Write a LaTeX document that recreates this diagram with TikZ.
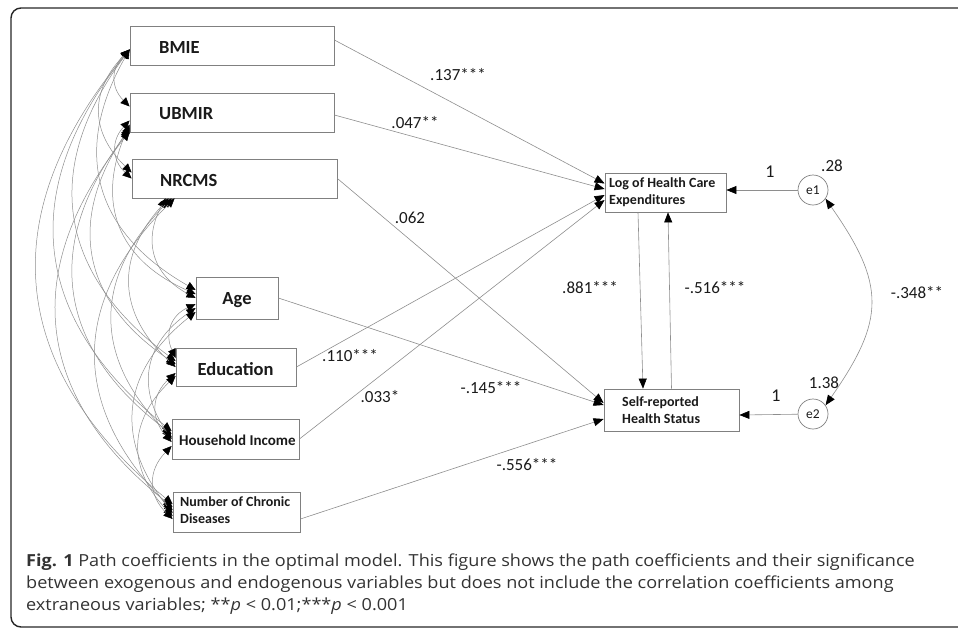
\documentclass[tikz,border=0pt]{standalone}
\usepackage{fontspec}
\setmainfont{Carlito}
\newfontfamily\capfont[FakeStretch=1.09]{Open Sans}
\usetikzlibrary{arrows.meta}
\definecolor{linegray}{HTML}{8E8E8E}
\definecolor{boxgray}{HTML}{808080}
\definecolor{txt}{HTML}{1A1A1A}
\tikzset{
  box/.style={draw=boxgray, line width=0.8pt, rectangle, inner sep=0pt},
  bigtxt/.style={text=txt, font=\bfseries\fontsize{18.5}{20}\selectfont, inner sep=0pt},
  smalltxt/.style={text=txt, font=\bfseries\fontsize{14}{17.5}\selectfont, inner sep=0pt, align=left},
  coef/.style={text=txt, font=\fontsize{17}{19}\selectfont, inner sep=0pt},
  errc/.style={draw=boxgray, line width=0.7pt, circle, minimum size=30pt, inner sep=0pt, text=txt, font=\fontsize{13.5}{15}\selectfont},
  pth/.style={draw=linegray, line width=0.6pt, -{Triangle[length=10pt,width=8pt,color=black]}},
  cov/.style={draw=linegray, line width=0.5pt, {Triangle[length=9pt,width=8pt,color=black]}-{Triangle[length=9pt,width=8pt,color=black]}, bend right=45, looseness=1.2},
  captxt/.style={text=black!80, font=\capfont\fontsize{16.6}{22}\selectfont, inner sep=0pt, anchor=base west}
}
\begin{document}
\begin{tikzpicture}[x=1pt,y=1pt]
\useasboundingbox (0,0) rectangle (958,-630);
% frame
\draw[line width=1.4pt, draw=black!85, rounded corners=10pt] (975,-8) -- (11,-8) -- (11,-627) -- (975,-627);

% exogenous boxes
\node[box, minimum width=204pt, minimum height=39pt] (bmie) at (232,-45.5) {};
\node[bigtxt, anchor=west] (bmiet) at (159,-47) {BMIE};
\node[box, minimum width=204pt, minimum height=39pt] (ubmir) at (232,-112.5) {};
\node[bigtxt, anchor=west] (ubmirt) at (159,-114) {UBMIR};
\node[box, minimum width=205pt, minimum height=39pt] (nrcms) at (234.5,-178.5) {};
\node[bigtxt, anchor=west] (nrcmst) at (160,-180) {NRCMS};
\node[box, minimum width=82pt, minimum height=42pt] (age) at (237,-298) {};
\node[bigtxt] (aget) at (237,-300) {Age};
\node[box, minimum width=120pt, minimum height=38pt] (edu) at (236,-367) {};
\node[bigtxt] (edut) at (235.5,-369) {Education};
\node[box, minimum width=127pt, minimum height=40pt] (hi) at (235.5,-439) {};
\node[smalltxt, font=\bfseries\fontsize{15}{17}\selectfont, anchor=west] (hit) at (179,-440) {Household Income};
\node[box, minimum width=127pt, minimum height=40pt] (ncd) at (236.5,-512) {};
\node[smalltxt, anchor=west] (ncdt) at (180,-510) {Number of Chronic\\Diseases};

% endogenous boxes
\node[box, minimum width=121pt, minimum height=39pt] (log) at (665.5,-192.5) {};
\node[smalltxt, anchor=west] (logt) at (609,-192) {Log of Health Care\\Expenditures};
\node[box, minimum width=135pt, minimum height=42pt] (srhs) at (671.5,-410) {};
\node[smalltxt, anchor=west] (srhst) at (622,-410) {Self-reported\\Health Status};

% error terms
\node[errc] (e1) at (813,-190) {e1};
\node[errc] (e2) at (813,-414) {e2};

% paths
\draw[pth] ([yshift=5.5pt]bmie.east) -- ([yshift=9pt]log.west);
\draw[pth] ([yshift=-2.5pt]ubmir.east) -- ([yshift=3.5pt]log.west);
\draw[pth] (edu.east) -- ([yshift=-2.5pt]log.west);
\draw[pth] (hi.east) -- ([yshift=-7.5pt]log.west);
\draw[pth] (nrcms.east) -- ([yshift=7pt]srhs.west);
\draw[pth] (age.east) -- ([yshift=5pt]srhs.west);
\draw[pth] ([yshift=-7pt]ncd.east) -- ([yshift=-9pt]srhs.west);
\draw[pth] ([xshift=-27.5pt]log.south) -- ([xshift=-28.5pt]srhs.north);
\draw[pth] (srhs.north) -- ([xshift=2.5pt]log.south);
\draw[pth] (e1) -- ([yshift=2.5pt]log.east);
\draw[pth] (e2) -- ([yshift=-5pt]srhs.east);
\draw[draw=linegray, line width=0.6pt, {Triangle[length=10pt,width=8pt,color=black]}-{Triangle[length=10pt,width=8pt,color=black]}] (e1.-35) to[out=-55, in=55, looseness=1.3] (e2.35);

% covariances
\draw[cov] ([yshift=-4pt]bmie.west) to ([yshift=6pt]ubmir.west);
\draw[cov] ([yshift=-4pt]bmie.west) to ([yshift=6pt]nrcms.west);
\draw[cov] ([yshift=-4pt]bmie.west) to ([yshift=8pt]age.west);
\draw[cov] ([yshift=-4pt]bmie.west) to ([yshift=6pt]edu.west);
\draw[cov] ([yshift=-4pt]bmie.west) to ([yshift=8pt]hi.west);
\draw[cov] ([yshift=-4pt]bmie.west) to ([yshift=8pt]ncd.west);
\draw[cov] ([yshift=-8pt]ubmir.west) to (nrcms.west);
\draw[cov] ([yshift=-12pt]ubmir.west) to ([yshift=4pt]age.west);
\draw[cov] ([yshift=-15pt]ubmir.west) to ([yshift=3pt]edu.west);
\draw[cov] ([yshift=-17pt]ubmir.west) to ([yshift=5pt]hi.west);
\draw[cov] ([yshift=-19pt]ubmir.west) to ([yshift=5pt]ncd.west);
\draw[cov] ([xshift=34pt]nrcms.south west) to (age.west);
\draw[cov] ([xshift=37pt]nrcms.south west) to (edu.west);
\draw[cov] ([xshift=40pt]nrcms.south west) to ([yshift=2pt]hi.west);
\draw[cov] ([xshift=43pt]nrcms.south west) to ([yshift=2pt]ncd.west);
\draw[cov] ([yshift=-6pt]age.west) to ([yshift=9pt]edu.west);
\draw[cov] ([yshift=-10pt]age.west) to (hi.west);
\draw[cov] ([yshift=-14pt]age.west) to ([yshift=-1pt]ncd.west);
\draw[cov] ([yshift=-6pt]edu.west) to ([yshift=-3pt]hi.west);
\draw[cov] ([yshift=-9pt]edu.west) to ([yshift=-4pt]ncd.west);
\draw[cov] ([yshift=-7pt]hi.west) to ([yshift=-7pt]ncd.west);

% coefficient labels
\node[coef] (c1) at (458,-75) {.137***};
\node[coef] (c2) at (415,-123) {.047**};
\node[coef] (c3) at (410,-218) {.062};
\node[coef] (c4) at (350,-356) {.110***};
\node[coef] (c5) at (380,-397) {.033*};
\node[coef] (c6) at (491,-388) {-.145***};
\node[coef] (c7) at (527,-465) {-.556***};
\node[coef] (c8) at (590,-288) {.881***};
\node[coef] (c9) at (715,-288) {-.516***};
\node[coef] (c10) at (917,-293) {-.348**};
\node[coef, font=\fontsize{18}{20}\selectfont] (w1) at (770,-172) {1};
\node[coef] (v1) at (832,-166) {.28};
\node[coef, font=\fontsize{18}{20}\selectfont] (w2) at (776,-396) {1};
\node[coef] (v2) at (824,-383) {1.38};

% caption
\node[captxt] (cap1) at (26,-566) {\textbf{Fig. 1} Path coefficients in the optimal model. This figure shows the path coefficients and their significance};
\node[captxt] (cap2) at (26,-588) {between exogenous and endogenous variables but does not include the correlation coefficients among};
\node[captxt] (cap3) at (26,-610) {extraneous variables; **\textit{p} < 0.01;***\textit{p} < 0.001};
\end{tikzpicture}
\end{document}
